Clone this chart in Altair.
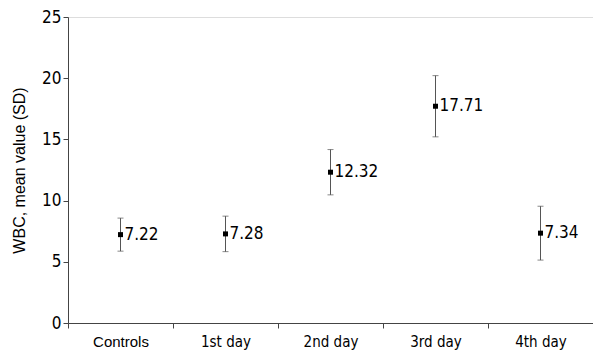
import altair as alt
import pandas as pd

groups = ["Controls", "1st day", "2nd day", "3rd day", "4th day"]
means = [7.22, 7.28, 12.32, 17.71, 7.34]
sds = [1.35, 1.45, 1.85, 2.5, 2.2]
labels = ["7.22", "7.28", "12.32", "17.71", "7.34"]

df = pd.DataFrame({"group": groups, "mean": means, "sd": sds, "label": labels})
df["lo"] = df["mean"] - df["sd"]
df["hi"] = df["mean"] + df["sd"]

NARROW = "'Liberation Sans Narrow', 'DejaVu Sans Condensed', sans-serif"
AX = "#444444"

x = alt.X("group:N", sort=groups, title=None,
          scale=alt.Scale(paddingInner=0, paddingOuter=0),
          axis=alt.Axis(tickBand="extent", labelAngle=0, domainColor=AX, tickColor=AX,
                        tickSize=5, labelPadding=6, labelColor="black", labelFontSize=15,
                        labelFont={"condition": {"test": "datum.value == 'Controls'", "value": "Liberation Sans"},
                                   "value": NARROW},
                        ))
y = alt.Y("mean:Q", title="WBC, mean value (SD)",
          scale=alt.Scale(domain=[0, 25], nice=False),
          axis=alt.Axis(values=[0, 5, 10, 15, 20, 25], grid=False, domainColor=AX, tickColor=AX,
                        tickSize=5, labelFont=NARROW, labelFontSize=17, labelColor="black",
                        titleFont="Liberation Sans", titleFontSize=16, titleFontWeight="normal",
                        titleColor="black", titlePadding=14))

base = alt.Chart(df)
rule = base.mark_rule(color="#555555", strokeWidth=1).encode(x=x, y=alt.Y("lo:Q", scale=alt.Scale(domain=[0, 25], nice=False)), y2="hi:Q")
cap_hi = base.mark_tick(color="#555555", size=6, thickness=1).encode(x=x, y=alt.Y("hi:Q"))
cap_lo = base.mark_tick(color="#555555", size=6, thickness=1).encode(x=x, y=alt.Y("lo:Q"))
pts = base.mark_square(color="black", size=25, opacity=1).encode(x=x, y=y)
txt = base.mark_text(align="left", dx=4, font=NARROW, fontSize=17, color="black").encode(x=x, y=alt.Y("mean:Q"), text="label:N")

chart = alt.layer(rule, cap_hi, cap_lo, pts, txt).properties(
    width=525, height=306,
    autosize=alt.AutoSizeParams(type="none"),
    padding={"left": 60, "top": 9, "right": 0, "bottom": 30},
).configure_view(stroke=None).configure(background="white")

chart.save("out.html", embed_options={"renderer": "svg", "actions": False})
